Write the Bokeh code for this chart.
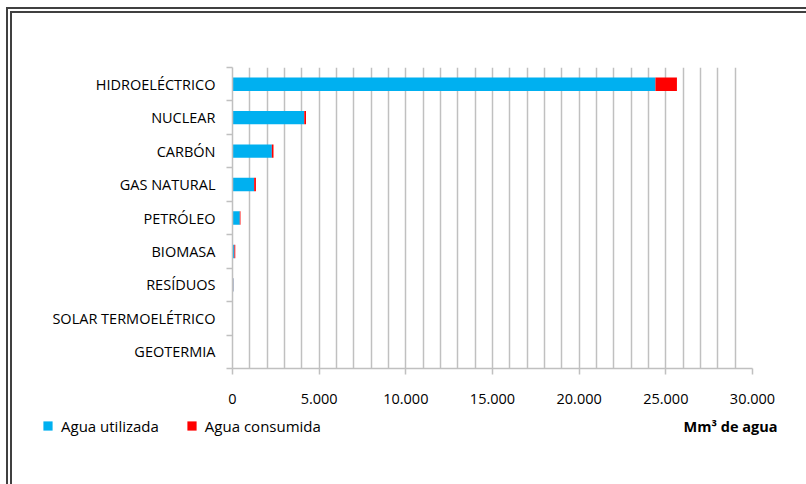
from bokeh.plotting import figure
from bokeh.layouts import column
from bokeh.models import (ColumnDataSource, Range1d, FixedTicker, Legend, LegendItem,
                          Label, InlineStyleSheet)
from bokeh.embed import file_html
from bokeh.resources import INLINE

# ---- data ----
categories = ["HIDROELÉCTRICO", "NUCLEAR", "CARBÓN", "GAS NATURAL", "PETRÓLEO",
              "BIOMASA", "RESÍDUOS", "SOLAR TERMOELÉTRICO", "GEOTERMIA"]
agua_utilizada = [24400, 4140, 2270, 1250, 420, 110, 50, 5, 2]
agua_consumida = [1240, 100, 95, 100, 40, 50, 10, 10, 1]
x_ticks = [0, 5000, 10000, 15000, 20000, 25000, 30000]
x_tick_labels = ["0", "5.000", "10.000", "15.000", "20.000", "25.000", "30.000"]
grid_step = 1000
series_names = ["Agua utilizada", "Agua consumida"]
series_colors = ["#00b0f0", "#ff0000"]
axis_title = "Mm³ de agua"

n = len(categories)
ypos = [n - 1 - i + 0.5 for i in range(n)]
src = ColumnDataSource(dict(
    y=ypos,
    util=agua_utilizada,
    total=[u + c for u, c in zip(agua_utilizada, agua_consumida)],
))

FONT = "Open Sans"
GRID = "#c0c0c0"
FS = "14.5px"
W, H_MAIN, H_LEG = 806, 410, 74

p = figure(width=W, height=H_MAIN, output_backend="svg", toolbar_location=None,
           x_range=Range1d(0, x_ticks[-1]), y_range=Range1d(0, n),
           min_border_left=232, min_border_right=54, min_border_top=67,
           min_border_bottom=42)
p.outline_line_color = None
p.background_fill_color = None
p.border_fill_color = None

p.hbar(y="y", left=0, right="util", height=0.4, source=src,
       fill_color=series_colors[0], line_color=None)
p.hbar(y="y", left="util", right="total", height=0.4, source=src,
       fill_color=series_colors[1], line_color=None)

# x axis
xa = p.xaxis[0]
xa.ticker = FixedTicker(ticks=x_ticks, minor_ticks=[])
xa.major_label_overrides = {t: l for t, l in zip(x_ticks, x_tick_labels)}
xa.axis_line_color = GRID
xa.axis_line_width = 1.5
xa.major_tick_line_color = GRID
xa.major_tick_line_width = 1.5
xa.major_tick_in = 0
xa.major_tick_out = 6
xa.minor_tick_line_color = None
xa.major_label_text_font = FONT
xa.major_label_text_font_size = FS
xa.major_label_text_color = "#000000"
xa.major_label_standoff = 19

# y axis
ya = p.yaxis[0]
ya.ticker = FixedTicker(ticks=ypos, minor_ticks=list(range(n + 1)))
ya.major_label_overrides = {y: c for y, c in zip(ypos, categories)}
ya.axis_line_color = GRID
ya.axis_line_width = 1.5
ya.major_tick_line_color = None
ya.major_tick_in = 0
ya.major_tick_out = 0
ya.minor_tick_line_color = GRID
ya.minor_tick_line_width = 1.5
ya.minor_tick_in = 0
ya.minor_tick_out = 6
ya.major_label_text_font = FONT
ya.major_label_text_font_size = FS
ya.major_label_text_color = "#000000"
ya.major_label_standoff = 11

# grids
p.ygrid.grid_line_color = None
p.xgrid.ticker = FixedTicker(ticks=list(range(0, x_ticks[-1] + 1, grid_step)))
p.xgrid.grid_line_color = GRID
p.xgrid.grid_line_width = 1.5

# ---- legend strip (pixel-scaled frame covering the whole strip) ----
p2 = figure(width=W, height=H_LEG, output_backend="svg", toolbar_location=None,
            x_range=Range1d(0, W), y_range=Range1d(H_LEG, 0),
            min_border=0, min_border_left=0, min_border_right=0,
            min_border_top=0, min_border_bottom=0)
p2.axis.visible = False
p2.grid.visible = False
p2.outline_line_color = None
p2.background_fill_color = None
p2.border_fill_color = None

for fig in (p, p2):
    if "frame_align" in fig.properties():
        fig.frame_align = False

nan = float("nan")
hidden = ColumnDataSource(dict(x=[nan], y=[nan]))
leg_r = [p2.scatter("x", "y", source=hidden, marker="square", fill_color=c,
                    line_color=None) for c in series_colors]
legend = Legend(items=[LegendItem(label=s, renderers=[r]) for s, r in zip(series_names, leg_r)],
                orientation="horizontal", location=(36, 47),
                padding=0, margin=0, spacing=21, label_standoff=2,
                glyph_width=23, glyph_height=23, label_height=23,
                border_line_color=None, background_fill_alpha=0,
                label_text_font=FONT, label_text_font_size="15px",
                label_text_color="#000000")
p2.add_layout(legend, "center")

p2.add_layout(Label(x=777, y=16, text=axis_title, text_align="right",
                    text_baseline="middle", text_font=FONT, text_font_size=FS,
                    text_font_style="bold", text_color="#000000"))

layout = column(p, p2, spacing=0)
layout.stylesheets = [InlineStyleSheet(css="""
:host { position: relative; overflow: hidden; }
:host::after {
  content: ""; position: absolute; left: 6px; top: 7px;
  width: 1200px; height: 1200px; border: 6px double #404040;
  pointer-events: none;
}
""")]

open("out.html", "w").write(file_html(layout, INLINE))
